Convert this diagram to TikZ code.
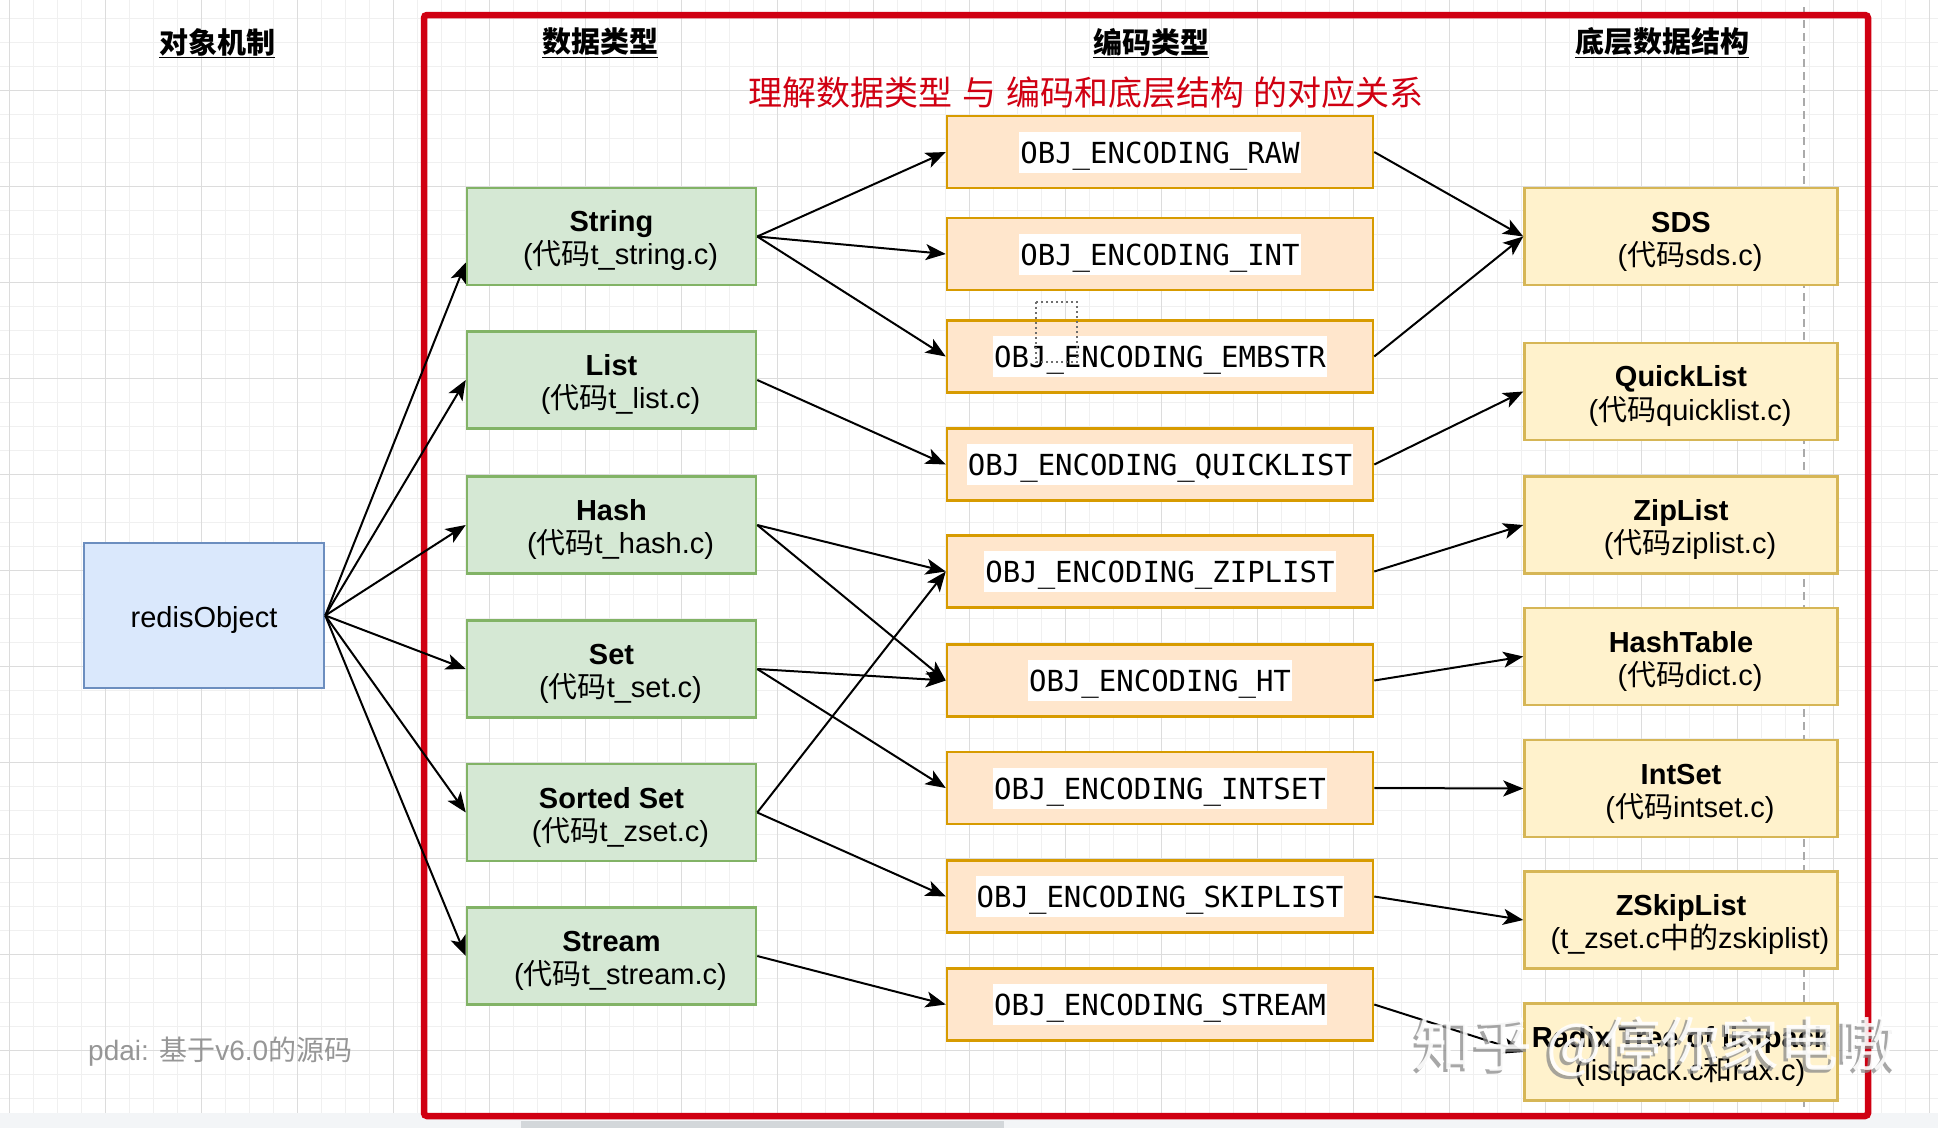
\documentclass[tikz,border=0pt]{standalone}
\usepackage{fontspec}
\setmainfont{Liberation Sans}
\newfontfamily\cjk{Noto Sans CJK SC}
\newfontfamily\monof{DejaVu Sans Mono}
\usetikzlibrary{arrows.meta,calc}
\definecolor{gfill}{HTML}{D5E8D4}
\definecolor{gline}{HTML}{82B366}
\definecolor{ofill}{HTML}{FFE6CC}
\definecolor{oline}{HTML}{D79B00}
\definecolor{yfill}{HTML}{FFF2CC}
\definecolor{yline}{HTML}{D6B656}
\definecolor{bfill}{HTML}{DAE8FC}
\definecolor{bline}{HTML}{6C8EBF}
\definecolor{redbox}{RGB}{208,0,18}
\definecolor{gridminor}{HTML}{F0F0F0}
\definecolor{gridmajor}{HTML}{DCDCDC}
\definecolor{wmgray}{HTML}{8A8A8A}
\definecolor{stripc}{RGB}{243,245,247}
\definecolor{scrollc}{RGB}{211,215,218}
\definecolor{guidec}{RGB}{170,170,170}
\definecolor{dotc}{RGB}{110,110,110}
\definecolor{footc}{RGB}{150,150,150}
\tikzset{
  boxbase/.style={rectangle, line width=2.5pt, inner sep=0pt, align=center,
    font=\fontsize{29}{33}\selectfont},
  gbox/.style={boxbase, fill=gfill, draw=gline, minimum width=289pt, minimum height=97pt},
  ybox/.style={boxbase, fill=yfill, draw=yline, minimum width=313pt, minimum height=97pt},
  obox/.style={boxbase, fill=ofill, draw=oline, minimum width=426pt, minimum height=72pt},
  bbox/.style={boxbase, fill=bfill, draw=bline, minimum width=240pt, minimum height=145pt},
  olbl/.style={fill=white, inner xsep=1pt, inner ysep=0pt, minimum height=41pt,
    font=\monof\fontsize{29}{33}\selectfont},
  hdr/.style={font=\cjk\bfseries\fontsize{29}{33}\selectfont, inner sep=0pt},
  arr/.style={line width=2pt, black, -{Stealth[length=20pt, width=16pt, inset=5pt]}},
  minorl/.style={gridminor, line width=1pt},
  majorl/.style={gridmajor, line width=1pt},
}
\newcommand{\cd}{{\cjk 代码}}
\newcommand{\tst}{\rule{0pt}{30pt}}
\newcommand{\mst}{\rule{0pt}{29pt}}
\begin{document}
\begin{tikzpicture}[x=1pt,y=-1pt]
\useasboundingbox (0,0) rectangle (1938,1128);
\fill[white] (0,0) rectangle (1938,1128);
% grid
\foreach \i in {0,...,80} {\draw[minorl] ({9.3+24*\i},0) -- ({9.3+24*\i},1113);}
\foreach \i in {0,...,45} {\draw[minorl] (0,{18.7+24*\i}) -- (1938,{18.7+24*\i});}
\foreach \i in {0,...,20} {\draw[majorl] ({9.3+96*\i},0) -- ({9.3+96*\i},1113);}
\foreach \i in {0,...,10} {\draw[majorl] (0,{90.7+96*\i}) -- (1938,{90.7+96*\i});}
% bottom strip
\fill[stripc] (0,1113) rectangle (1938,1128);
\fill[scrollc] (521,1121) rectangle (1004,1128);
% dashed guide
\draw[line width=1.8pt, guidec, dash pattern=on 8pt off 5pt] (1804,7) -- (1804,1107);
% red frame
\draw[redbox, line width=6.5pt, rounded corners=3pt] (424,15) rectangle (1868,1116);
% headers
\node[hdr] (h1) at (217,43) {\underline{对象机制}};
\node[hdr] (h2) at (600,43) {\underline{数据类型}};
\node[hdr] (h3) at (1151,43) {\underline{编码类型}};
\node[hdr] (h4) at (1662,43) {\underline{底层数据结构}};
\node[font=\cjk\fontsize{34}{40}\selectfont, text=redbox, inner sep=0pt] (sub) at (1086,93)
  {理解数据类型\hspace{10pt}与\hspace{10pt}编码和底层结构\hspace{10pt}的对应关系};
% redisObject
\node[bbox] (robj) at (204,615.5) {\tst redisObject};
% green
\node[gbox] (gstr) at (611.5,236.5) {\tst\textbf{String}\\\hspace*{18pt}(\cd t\_string.c)};
\node[gbox] (glist) at (611.5,380) {\tst\textbf{List}\\\hspace*{18pt}(\cd t\_list.c)};
\node[gbox] (ghash) at (611.5,525) {\tst\textbf{Hash}\\\hspace*{18pt}(\cd t\_hash.c)};
\node[gbox] (gset) at (611.5,669) {\tst\textbf{Set}\\\hspace*{18pt}(\cd t\_set.c)};
\node[gbox] (gzset) at (611.5,812.5) {\tst\textbf{Sorted Set}\\\hspace*{18pt}(\cd t\_zset.c)};
\node[gbox] (gstream) at (611.5,956) {\tst\textbf{Stream}\\\hspace*{18pt}(\cd t\_stream.c)};
% orange
\node[obox, label={[olbl]center:\mst OBJ\_ENCODING\_RAW}] (oraw) at (1160,152) {};
\node[obox, label={[olbl]center:\mst OBJ\_ENCODING\_INT}] (oint) at (1160,254) {};
\node[obox, label={[olbl]center:\mst OBJ\_ENCODING\_EMBSTR}] (oemb) at (1160,356.5) {};
\node[obox, label={[olbl]center:\mst OBJ\_ENCODING\_QUICKLIST}] (oql) at (1160,464.5) {};
\node[obox, label={[olbl]center:\mst OBJ\_ENCODING\_ZIPLIST}] (ozip) at (1160,571.5) {};
\node[obox, label={[olbl]center:\mst OBJ\_ENCODING\_HT}] (oht) at (1160,680.5) {};
\node[obox, label={[olbl]center:\mst OBJ\_ENCODING\_INTSET}] (ois) at (1160,788) {};
\node[obox, label={[olbl]center:\mst OBJ\_ENCODING\_SKIPLIST}] (osl) at (1160,896.5) {};
\node[obox, label={[olbl]center:\mst OBJ\_ENCODING\_STREAM}] (ostm) at (1160,1004.5) {};
% yellow
\node[ybox] (ysds) at (1681,236.5) {\tst\textbf{SDS}\\\hspace*{18pt}(\cd sds.c)};
\node[ybox] (yql) at (1681,391.5) {\tst\textbf{QuickList}\\\hspace*{18pt}(\cd quicklist.c)};
\node[ybox] (yzl) at (1681,525) {\tst\textbf{ZipList}\\\hspace*{18pt}(\cd ziplist.c)};
\node[ybox] (yht) at (1681,656.5) {\tst\textbf{HashTable}\\\hspace*{18pt}(\cd dict.c)};
\node[ybox] (yis) at (1681,788.5) {\tst\textbf{IntSet}\\\hspace*{18pt}(\cd intset.c)};
\node[ybox] (yzs) at (1681,920) {\tst\textbf{ZSkipList}\\\hspace*{18pt}(t\_zset.c{\cjk 中的}zskiplist)};
\node[ybox] (yrx) at (1681,1052) {\tst\textbf{Radix Tree of listpack}\\\hspace*{18pt}(listpack.c{\cjk 和}rax.c)};
% dotted artifact
\draw[line width=1.5pt, dotc, dash pattern=on 2pt off 3pt] (1036,302) rectangle (1077,362);
% footer text
\node[anchor=west, inner sep=0pt, text=footc, font=\fontsize{28}{32}\selectfont] (foot) at (88,1052) {pdai: {\cjk 基于}v6.0{\cjk 的源码}};
% arrows redisObject -> types
\draw[arr] (robj.east) -- ([yshift=-26pt]gstr.west);
\draw[arr] (robj.east) -- (glist.west);
\draw[arr] (robj.east) -- (ghash.west);
\draw[arr] (robj.east) -- (gset.west);
\draw[arr] (robj.east) -- (gzset.west);
\draw[arr] (robj.east) -- (gstream.west);
% types -> encodings
\draw[arr] (gstr.east) -- (oraw.west);
\draw[arr] (gstr.east) -- (oint.west);
\draw[arr] (gstr.east) -- (oemb.west);
\draw[arr] (glist.east) -- (oql.west);
\draw[arr] (ghash.east) -- (ozip.west);
\draw[arr] (ghash.east) -- (oht.west);
\draw[arr] (gset.east) -- (oht.west);
\draw[arr] (gset.east) -- (ois.west);
\draw[arr] (gzset.east) -- (ozip.west);
\draw[arr] (gzset.east) -- (osl.west);
\draw[arr] (gstream.east) -- (ostm.west);
% encodings -> structures
\draw[arr] (oraw.east) -- (ysds.west);
\draw[arr] (oemb.east) -- (ysds.west);
\draw[arr] (oql.east) -- (yql.west);
\draw[arr] (ozip.east) -- (yzl.west);
\draw[arr] (oht.east) -- (yht.west);
\draw[arr] (ois.east) -- (yis.west);
\draw[arr] (osl.east) -- (yzs.west);
\draw[arr] (ostm.east) -- (yrx.west);
% watermark
\node[anchor=west, inner sep=0pt, text=wmgray, opacity=0.75, font=\cjk\fontsize{59}{64}\selectfont] (wm1) at (1411,1050) {知乎\hspace{14pt}@停你家电嗷};
\node[anchor=west, inner sep=0pt, text=white, opacity=0.9, font=\cjk\fontsize{59}{64}\selectfont] (wm2) at (1414,1047) {知乎\hspace{14pt}@停你家电嗷};
\end{tikzpicture}
\end{document}
